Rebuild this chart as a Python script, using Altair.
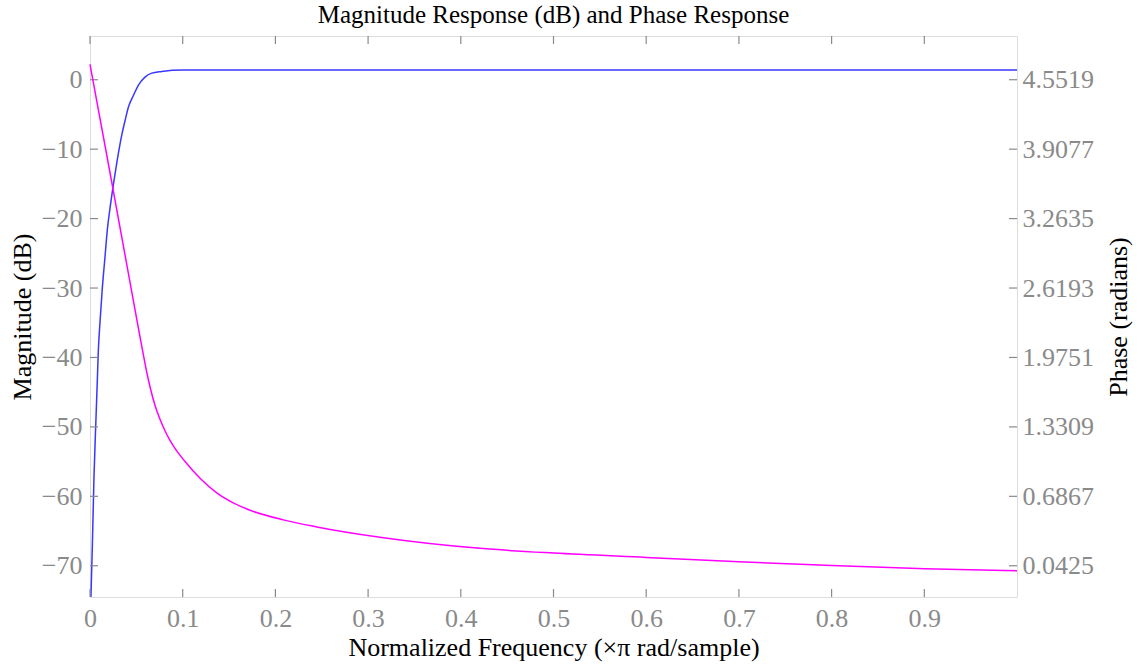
import altair as alt
import pandas as pd

# ---- data ----
mag_freq = [0.001, 0.0025, 0.0043, 0.0065, 0.0079, 0.0090, 0.0108, 0.0133, 0.0162, 0.0187,
            0.0216, 0.0251, 0.0291, 0.0342, 0.0378, 0.0413, 0.0467, 0.0521, 0.0593, 0.0666,
            0.0773, 0.1000, 0.5, 1.0]
mag_db = [-74.5, -67.3, -57.2, -48.6, -43.3, -39.0, -34.9, -30.0, -25.5, -21.6,
          -18.5, -15.2, -11.8, -8.0, -5.9, -4.0, -2.3, -0.8, 0.37, 0.95,
          1.2, 1.41, 1.41, 1.41]

ph_freq = [0.0, 0.0108, 0.0216, 0.0324, 0.0432, 0.0539, 0.0626,
           0.0701, 0.0755, 0.0809, 0.0863, 0.0917, 0.1025, 0.1187, 0.1367, 0.1546, 0.1726,
           0.2085, 0.2446, 0.3128, 0.4207, 0.5005, 0.5998, 0.7001, 0.8004, 0.9007, 1.0]
ph_rad = [4.694, 4.191, 3.689, 3.180, 2.671, 2.168, 1.782,
          1.531, 1.402, 1.295, 1.205, 1.131, 1.009, 0.854, 0.719, 0.626, 0.558,
          0.468, 0.403, 0.307, 0.204, 0.160, 0.120, 0.080, 0.045, 0.015, -0.005]

x_ticks = [0, 0.1, 0.2, 0.3, 0.4, 0.5, 0.6, 0.7, 0.8, 0.9]
db_ticks = [-70, -60, -50, -40, -30, -20, -10, 0]
ph_ticks = [0.0425, 0.6867, 1.3309, 1.9751, 2.6193, 3.2635, 3.9077, 4.5519]

db_domain = [-74.5, 6.3]
ph_domain = [-0.2474, 4.9577]
x_domain = [0, 1]

W, H = 927, 561
FONT = "Liberation Serif"
GRAY = "#8a8a8a"
FS = 26

mag_df = pd.DataFrame({"f": mag_freq, "db": mag_db})
ph_df = pd.DataFrame({"f": ph_freq, "ph": ph_rad})
xt_df = pd.DataFrame({"t": x_ticks})
dbt_df = pd.DataFrame({"t": db_ticks})
pht_df = pd.DataFrame({"t": ph_ticks})

x_scale = alt.Scale(domain=x_domain, nice=False, zero=False)
db_scale = alt.Scale(domain=db_domain, nice=False, zero=False)
ph_scale = alt.Scale(domain=ph_domain, nice=False, zero=False)

common = dict(ticks=False, tickSize=0, domain=False, grid=False, labelFlush=False,
              labelFont=FONT, labelFontSize=FS, labelColor=GRAY,
              titleFont=FONT, titleFontSize=FS, titleColor="black", titleFontWeight="normal")

x_axis = alt.Axis(values=x_ticks, title="Normalized Frequency (×π rad/sample)",
                  labelExpr="datum.value == 0 ? '0' : format(datum.value, '.1f')",
                  labelPadding=8, titlePadding=3, **common)
db_axis = alt.Axis(values=db_ticks, format="d", title="Magnitude (dB)", orient="left",
                   labelPadding=8, titlePadding=6, **common)
ph_axis = alt.Axis(values=ph_ticks, format=".4f", title="Phase (radians)", orient="right",
                   labelPadding=5, titlePadding=12, titleAngle=270, titleBaseline="top",
                   **common)

mag_line = alt.Chart(mag_df).mark_line(color="#3838ff", strokeWidth=1.5, interpolate="monotone").encode(
    x=alt.X("f:Q", scale=x_scale, axis=x_axis),
    y=alt.Y("db:Q", scale=db_scale, axis=db_axis),
)
left_ticks = alt.Chart(dbt_df).mark_rule(color=GRAY, strokeWidth=1.2).encode(
    y=alt.Y("t:Q", scale=db_scale, axis=db_axis),
    x=alt.value(0), x2=alt.value(8),
)
bottom_ticks = alt.Chart(xt_df).mark_rule(color=GRAY, strokeWidth=1.2).encode(
    x=alt.X("t:Q", scale=x_scale, axis=x_axis),
    y=alt.value(H), y2=alt.value(H - 8),
)
top_ticks = alt.Chart(xt_df).mark_rule(color=GRAY, strokeWidth=1.2).encode(
    x=alt.X("t:Q", scale=x_scale, axis=x_axis),
    y=alt.value(0), y2=alt.value(8),
)

ph_line = alt.Chart(ph_df).mark_line(color="#ff00ff", strokeWidth=1.5, interpolate="monotone").encode(
    x=alt.X("f:Q", scale=x_scale, axis=x_axis),
    y=alt.Y("ph:Q", scale=ph_scale, axis=ph_axis),
)
right_ticks = alt.Chart(pht_df).mark_rule(color=GRAY, strokeWidth=1.2).encode(
    y=alt.Y("t:Q", scale=ph_scale, axis=ph_axis),
    x=alt.value(W - 8), x2=alt.value(W),
)

left = alt.layer(mag_line, left_ticks, bottom_ticks, top_ticks)
right = alt.layer(ph_line, right_ticks)

chart = alt.layer(left, right).resolve_scale(y="independent").properties(
    width=W, height=H,
    title=alt.TitleParams("Magnitude Response (dB) and Phase Response", font=FONT, fontSize=25,
                          fontWeight="normal", color="black", anchor="middle", offset=7),
    autosize=alt.AutoSizeParams(type="none"),
    padding={"left": 90, "top": 36, "right": 126, "bottom": 70},
).configure_view(stroke=GRAY, strokeWidth=1.5).configure(background="white")

chart.save("out.html", embed_options={"renderer": "svg", "actions": False})
